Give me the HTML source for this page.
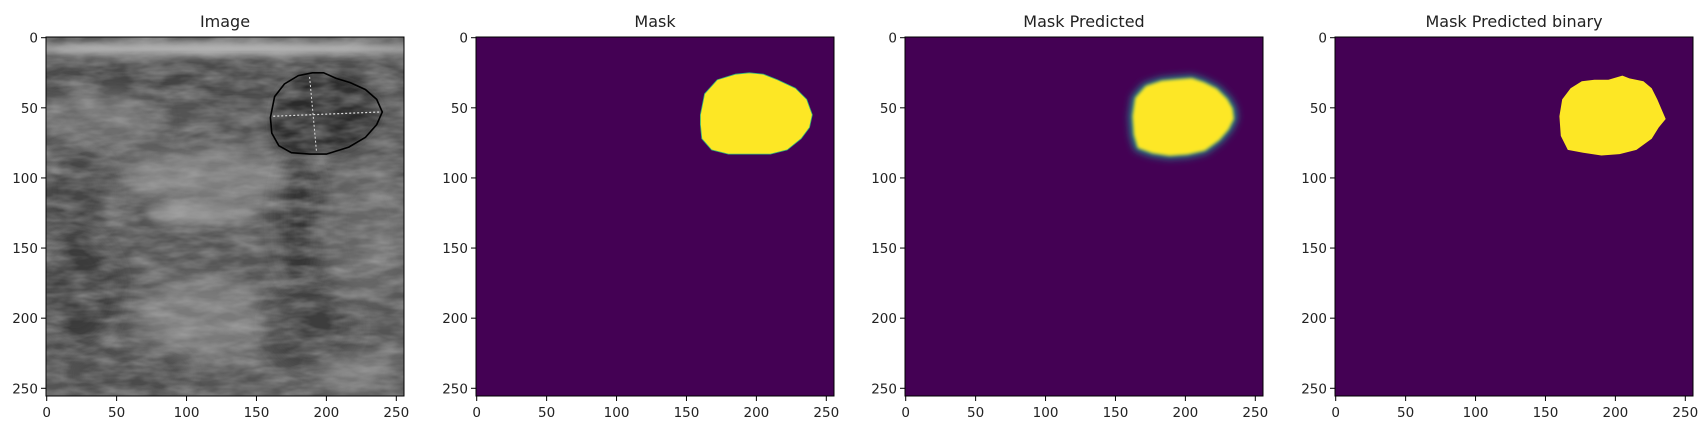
<!DOCTYPE html>
<html><head><meta charset="utf-8">
<style>
html,body{margin:0;padding:0;background:#fff;width:1706px;height:435px;overflow:hidden;}
svg text{font-family:"DejaVu Sans","Liberation Sans",sans-serif;fill:#222;}
</style></head>
<body>
<svg id="fig" width="1706" height="435" xmlns="http://www.w3.org/2000/svg">
<defs>
<filter id="b4" x="-50%" y="-50%" width="200%" height="200%"><feGaussianBlur stdDeviation="4"/></filter>
<filter id="b8" x="-80%" y="-80%" width="260%" height="260%"><feGaussianBlur stdDeviation="10"/></filter>
<filter id="b2" x="-20%" y="-20%" width="140%" height="140%"><feGaussianBlur stdDeviation="1.6"/></filter>
<filter id="noise" x="0" y="0" width="100%" height="100%">
<feTurbulence type="fractalNoise" baseFrequency="0.03 0.09" numOctaves="3" seed="4"/>
<feColorMatrix type="matrix" values="0 0 0 0 0.45  0 0 0 0 0.45  0 0 0 0 0.45  1.2 0 0 0 -0.35"/>
</filter>
</defs>
</svg>
<script>
const titles=["Image","Mask","Mask Predicted","Mask Predicted binary"];
const tickVals=[0,50,100,150,200,250];
const panelLefts=[46,476,905,1335];
// tumor outline in data coordinates (x,y)
const maskX=[160,163,172,185,195,205,215,228,236,240,238,232,222,210,195,180,168,161,160];
const maskY=[55,40,30,26,25,26,30,36,44,55,64,72,80,83,83,83,80,72,62];
const predX=[160,162,170,182,192,205,214,224,232,236,237,233,226,215,202,188,175,164,161];
const predY=[56,42,33,29,28,27,30,35,43,50,58,66,74,82,85,86,84,80,70];
const binX=[160,162,168,176,185,195,205,210,220,226,230,236,231,226,215,203,190,177,166,161];
const binY=[56,44,36,31,30,30,27,29,31,36,44,58,64,72,80,83,84,82,80,70];
// ultrasound contour drawn on Image
const contX=[160,163,170,180,190,198,207,217,228,236,240,236,228,216,200,188,175,166,161];
const contY=[57,42,33,27,25,25,29,32,37,44,53,62,71,78,83,83,82,77,68];

const NS="http://www.w3.org/2000/svg";
const svg=document.getElementById('fig');
const W=358,H=359,TOP=37;
function mk(tag,attrs,parent){const e=document.createElementNS(NS,tag);for(const k in attrs)e.setAttribute(k,attrs[k]);(parent||svg).appendChild(e);return e;}
function sx(L,v){return L+(v+0.5)*W/256;}
function sy(v){return TOP+(v+0.5)*H/256;}
function poly(L,xs,ys){return xs.map((x,i)=>sx(L,x).toFixed(1)+','+sy(ys[i]).toFixed(1)).join(' ');}

panelLefts.forEach((L,p)=>{
  const g=mk('g',{});
  
  
  const cid='clip'+p;
  const cp=mk('clipPath',{id:cid},g);mk('rect',{x:L,y:TOP,width:W,height:H},cp);
  const inner=mk('g',{'clip-path':'url(#'+cid+')'},g);
  if(p===0){
    mk('rect',{x:L,y:TOP,width:W,height:H,fill:'#545454'},inner);
    const blobs=[
      [128,8,150,5,'#b5b5b5',4],[128,30,150,8,'#3c3c3c',8],[40,60,40,20,'#6e6e6e',8],
      [120,100,70,20,'#7e7e7e',8],[110,125,40,8,'#8a8a8a',4],[20,110,25,30,'#444',8],
      [110,200,45,30,'#7a7a7a',8],[20,180,30,40,'#3a3a3a',8],[180,130,14,50,'#333',8],
      [190,205,30,30,'#3e3e3e',8],[220,240,25,15,'#7a7a7a',8],[230,140,30,50,'#666',8],
      [60,240,40,15,'#4a4a4a',8]];
    blobs.forEach(b=>mk('ellipse',{cx:sx(L,b[0]),cy:sy(b[1]),rx:b[2]*W/256,ry:b[3]*H/256,fill:b[4],filter:'url(#b'+b[5]+')'},inner));
    mk('polygon',{points:poly(L,contX,contY),fill:'#2c2c2c',filter:'url(#b4)'},inner);
    mk('rect',{x:L,y:TOP,width:W,height:H,filter:'url(#noise)',opacity:0.8},inner);
    const c=mk('polygon',{points:poly(L,contX,contY),fill:'none',stroke:'#000','stroke-width':1.6},inner);
    
    mk('line',{x1:sx(L,162),y1:sy(56),x2:sx(L,238),y2:sy(53),stroke:'#ddd','stroke-width':1.2,'stroke-dasharray':'2 2'},inner);
    mk('line',{x1:sx(L,188),y1:sy(28),x2:sx(L,193),y2:sy(82),stroke:'#ddd','stroke-width':1,'stroke-dasharray':'2 2'},inner);
  } else {
    mk('rect',{x:L,y:TOP,width:W,height:H,fill:'#440154'},inner);
    if(p===1){
      const m=mk('polygon',{points:poly(L,maskX,maskY),fill:'#fde725',stroke:'#35b779','stroke-width':0.8},inner);
      
    } else if(p===2){
      mk('polygon',{points:poly(L,predX,predY),fill:'#21918c',filter:'url(#b4)'},inner);
      const m=mk('polygon',{points:poly(L,predX,predY),fill:'#fde725',filter:'url(#b2)',transform:'translate('+sx(L,198)+','+sy(57)+') scale(0.94) translate('+(-sx(L,198))+','+(-sy(57))+')'},inner);
      
    } else {
      const m=mk('polygon',{points:poly(L,binX,binY),fill:'#fde725'},inner);
      
    }
  }
  const fr=mk('rect',{x:L,y:TOP,width:W,height:H,fill:'none',stroke:'#000','stroke-width':1},g);
  
  const t=mk('text',{x:L+W/2,y:27,'text-anchor':'middle','font-size':16},g);
  t.textContent=titles[p];
  
  tickVals.forEach(v=>{
    const x=sx(L,v),y=sy(v);
    mk('line',{x1:x,y1:TOP+H,x2:x,y2:TOP+H+5,stroke:'#000','stroke-width':1},g);
    const tx=mk('text',{x:x,y:TOP+H+21,'text-anchor':'middle','font-size':13.5},g);
    tx.textContent=v;
    
    mk('line',{x1:L-5,y1:y,x2:L,y2:y,stroke:'#000','stroke-width':1},g);
    const ty=mk('text',{x:L-8,y:y+5,'text-anchor':'end','font-size':13.5},g);
    ty.textContent=v;
    
  });
});
</script>
</body></html>
